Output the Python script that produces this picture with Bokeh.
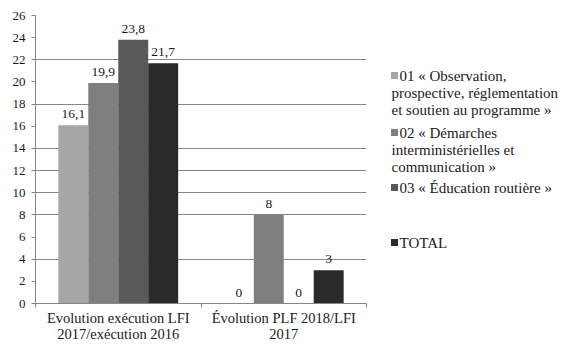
from bokeh.plotting import figure
from bokeh.layouts import row
from bokeh.models import FixedTicker, ColumnDataSource, Range1d
from bokeh.transform import dodge
from bokeh.core.properties import value
from bokeh.embed import file_html
from bokeh.resources import INLINE

categories = ["Evolution exécution LFI\n2017/exécution 2016", "Évolution PLF 2018/LFI\n2017"]
series_names = [
    ["01 « Observation,", "prospective, réglementation", "et soutien au programme »"],
    ["02 « Démarches", "interministérielles et", "communication »"],
    ["03 « Éducation routière »"],
    ["TOTAL"],
]
s01 = [16.1, 0]
s02 = [19.9, 8]
s03 = [23.8, 0]
total = [21.7, 3]
series = [s01, s02, s03, total]
colors = ["#a6a6a6", "#7f7f7f", "#595959", "#2a2a2a"]
y_ticks = list(range(0, 27, 2))
grid_ticks = [4, 8, 10, 12, 14, 18, 22, 26]

FONT = "Liberation Serif"
TXT = "#1a1a1a"
AX = "#868686"

xs = [i + 0.5 for i in range(len(categories))]
bounds = list(range(len(categories) + 1))

p = figure(width=368, height=355, output_backend="svg", toolbar_location=None,
           x_range=Range1d(0, len(categories)), y_range=Range1d(0, 26),
           min_border_left=35, min_border_right=2, min_border_top=15, min_border_bottom=52)
p.outline_line_color = None
p.background_fill_color = "white"
p.border_fill_color = "white"

bw = 0.181
offsets = [-1.5 * bw, -0.5 * bw, 0.5 * bw, 1.5 * bw]
for vals, col, off in zip(series, colors, offsets):
    lbls = [f"{v:g}".replace(".", ",") for v in vals]
    src = ColumnDataSource(dict(x=xs, top=vals, lbl=lbls))
    p.vbar(x=dodge("x", off, range=p.x_range), top="top", width=bw, source=src,
           fill_color=col, line_color=None)
    p.text(x=dodge("x", off, range=p.x_range), y="top", text="lbl", source=src,
           text_align="center", text_baseline="bottom", y_offset=-7,
           text_font=value(FONT), text_font_size="13.5px", text_color=TXT)

# axes
p.xaxis.ticker = FixedTicker(ticks=xs, minor_ticks=bounds)
p.xaxis.major_label_overrides = {x: c for x, c in zip(xs, categories)}
p.xaxis.major_tick_line_color = None
p.xaxis.major_tick_out = 0
p.xaxis.major_tick_in = 0
p.xaxis.minor_tick_out = 4
p.xaxis.minor_tick_in = 0
p.xaxis.minor_tick_line_color = AX
p.xaxis.axis_line_color = AX
p.xaxis.major_label_text_font = FONT
p.xaxis.major_label_text_font_size = "14.5px"
p.xaxis.major_label_text_color = TXT
p.xaxis.major_label_text_line_height = 1.03
p.xaxis.major_label_standoff = 2

p.yaxis.ticker = FixedTicker(ticks=y_ticks)
p.yaxis.major_tick_out = 4
p.yaxis.major_tick_in = 0
p.yaxis.minor_tick_line_color = None
p.yaxis.major_tick_line_color = AX
p.yaxis.axis_line_color = AX
p.yaxis.major_label_text_font = FONT
p.yaxis.major_label_text_font_size = "13px"
p.yaxis.major_label_text_color = TXT
p.yaxis.major_label_standoff = 6

p.xgrid.visible = False
p.ygrid.ticker = FixedTicker(ticks=grid_ticks)
p.ygrid.grid_line_color = AX
p.ygrid.grid_line_width = 1

# legend panel (pixel-like coordinates, y downward; frame aligned with the chart frame 15..303)
lg = figure(width=209, height=355, output_backend="svg", toolbar_location=None,
            x_range=Range1d(366, 575), y_range=Range1d(303, 15),
            min_border=0)
lg.axis.visible = False
lg.grid.visible = False
lg.outline_line_color = None
lg.background_fill_color = "white"
lg.border_fill_color = "white"

leg_y = [75, 132, 187, 242]
line_h = 17
sq_x, sq_y, tx, ty, tt = [], [], [], [], []
for lines, y0 in zip(series_names, leg_y):
    sq_x.append(392)
    sq_y.append(y0)
    for i, ln in enumerate(lines):
        tx.append(397 if i == 0 else 389)
        ty.append(y0 + i * line_h)
        tt.append(ln)
lg.scatter(x=sq_x, y=sq_y, marker="square", size=7, fill_color=colors, line_color=None)
lg.text(x=tx, y=ty, text=tt, text_align="left", text_baseline="middle",
        text_font=value(FONT), text_font_size="15px", text_color=TXT)

layout = row(p, lg, spacing=0)
open("out.html", "w").write(file_html(layout, INLINE))
